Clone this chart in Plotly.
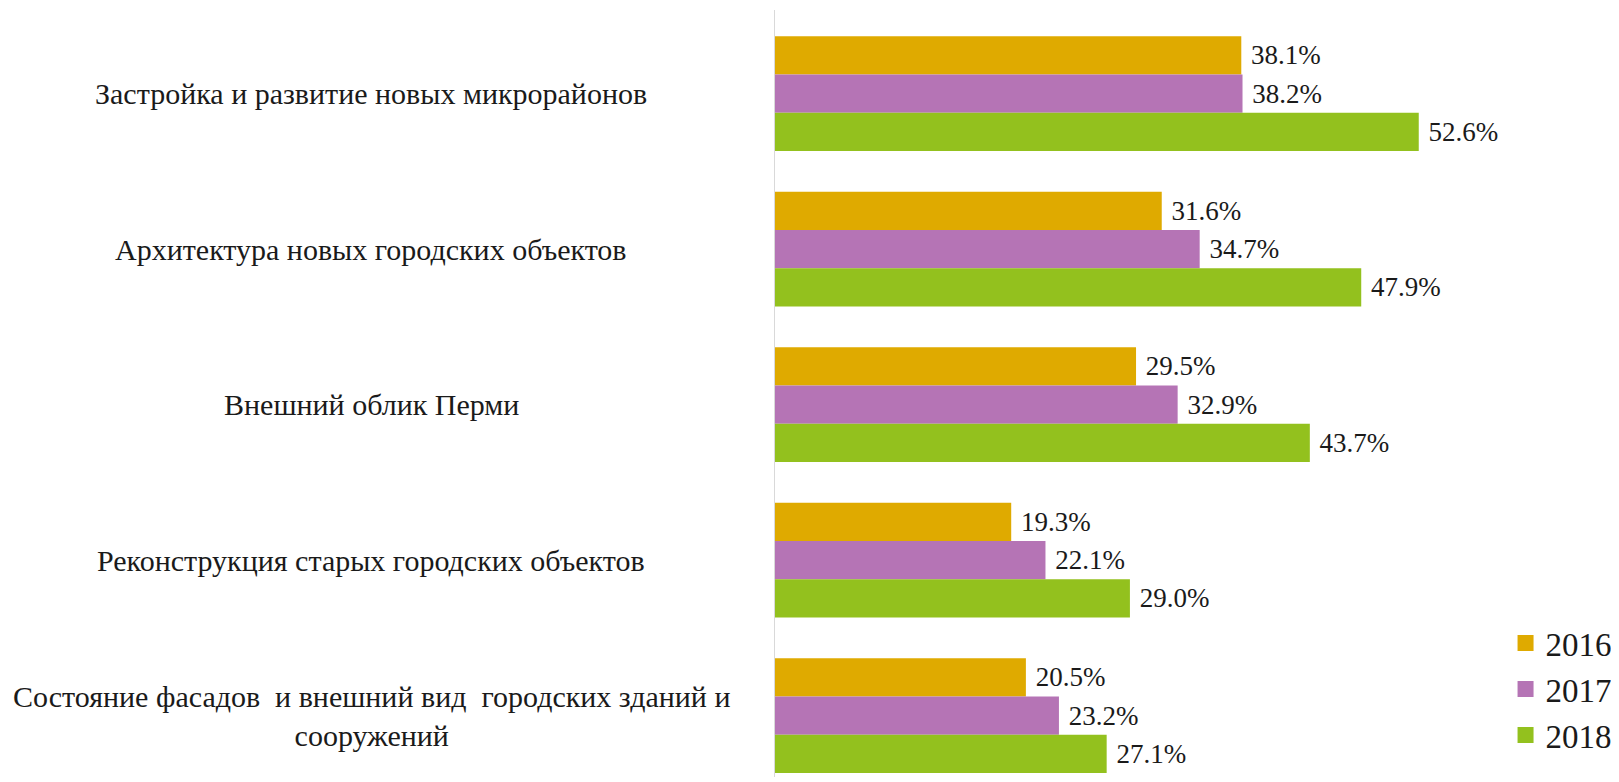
import plotly.graph_objects as go

categories = [
    "Застройка и развитие новых микрорайонов",
    "Архитектура новых городских объектов",
    "Внешний облик Перми",
    "Реконструкция старых городских объектов",
    "Состояние фасадов  и внешний вид  городских зданий и<br>сооружений",
]
years = ["2016", "2017", "2018"]
v2016 = [38.1, 31.6, 29.5, 19.3, 20.5]
v2017 = [38.2, 34.7, 32.9, 22.1, 23.2]
v2018 = [52.6, 47.9, 43.7, 29.0, 27.1]
colors = ["#DFAA00", "#B574B5", "#93C11E"]

# page body has an 8px margin, so the figure is drawn 8px smaller
W, H = 1611, 774
L, R, T, B = 767, 169, 2, 5
bar_w = 0.246
serif = "Liberation Serif, Times New Roman, serif"

fig = go.Figure()
idx = list(range(len(categories)))
for k, (year, vals) in enumerate(zip(years, [v2016, v2017, v2018])):
    off = (k - 1) * bar_w
    fig.add_trace(go.Bar(
        x=vals,
        y=[i + off for i in idx],
        orientation="h",
        width=bar_w,
        marker=dict(color=colors[k], line=dict(width=0)),
        texttemplate=" %{x:.1f}%",
        textposition="outside",
        constraintext="none",
        cliponaxis=False,
        textfont=dict(family=serif, size=27, color="#1a1a1a"),
        showlegend=False,
        hoverinfo="skip",
    ))
    # legend entry with a bigger square swatch
    fig.add_trace(go.Scatter(
        x=[None], y=[None], mode="markers", name=year,
        marker=dict(symbol="square", size=19, color=colors[k]),
    ))

plot_w = W - L - R
for i, cat in enumerate(categories):
    fig.add_annotation(
        x=(360 - L) / plot_w, xref="paper", xanchor="center",
        y=i, yref="y", yanchor="middle",
        text=cat, showarrow=False, align="center",
        font=dict(family=serif, size=30, color="#1a1a1a"),
    )

fig.update_layout(
    width=W, height=H,
    margin=dict(l=L, r=R, t=T, b=B),
    paper_bgcolor="white", plot_bgcolor="white",
    barmode="overlay",
    xaxis=dict(range=[0, plot_w / 12.33], visible=False),
    yaxis=dict(range=[4.395, -0.537], showline=True, linecolor="#D9D9D9", linewidth=1,
               showticklabels=False, ticks="", showgrid=False, zeroline=False),
    legend=dict(x=(1503 - L) / plot_w, xanchor="left", y=0.211, yanchor="top",
                font=dict(family=serif, size=33, color="#1a1a1a"),
                itemwidth=30, tracegroupgap=0, bgcolor="rgba(0,0,0,0)"),
)

fig.write_html("out.html")
